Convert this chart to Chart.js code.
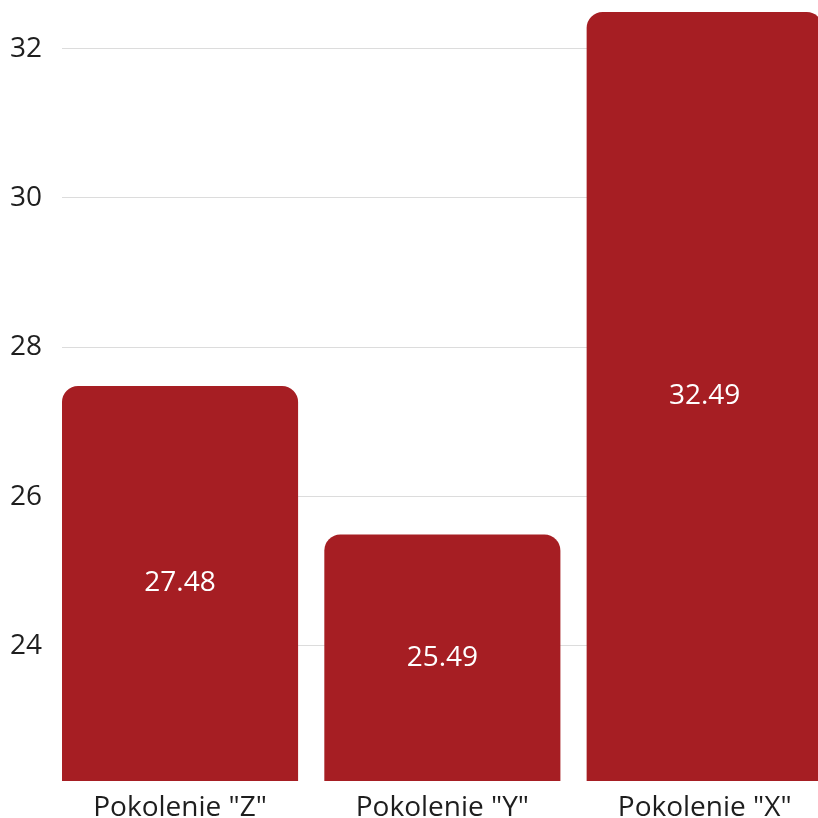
<!DOCTYPE html>
<html>
<head>
<meta charset="utf-8">
<script src="https://cdn.jsdelivr.net/npm/chart.js@4.4.1/dist/chart.umd.min.js"></script>
<style>
  html, body { margin: 0; padding: 0; background: #fff; overflow: hidden; }
  #wrap { width: 818px; height: 818px; }
</style>
</head>
<body>
<div id="wrap"><canvas id="myChart" width="818" height="818"></canvas></div>
<script>
const categories = ['Pokolenie "Z"', 'Pokolenie "Y"', 'Pokolenie "X"'];
const values = [27.48, 25.49, 32.49];
const yTicks = [24, 26, 28, 30, 32];

const barColor = "#a61e23";

// value labels in the middle of each bar
const barLabels = {
    id: "barLabels",
    afterDraw(chart) {
        const c = chart.ctx;
        const xs = chart.scales.x;
        const ys = chart.scales.y;
        c.save();
        c.fillStyle = "#ffffff";
        c.font = "28px 'Open Sans'";
        c.textAlign = "center";
        c.textBaseline = "middle";
        values.forEach((v, i) => {
            const top = ys.getPixelForValue(v);
            c.fillText(v.toFixed(2), xs.getPixelForValue(i), (top + ys.bottom) / 2);
        });
        c.restore();
    },
};

// drop the extra padding the axes ask for around their end labels
const noPad = (scale) => {
    scale.paddingTop = 0;
    scale.paddingBottom = 0;
    scale.paddingLeft = 0;
    scale.paddingRight = 0;
};

const chart = new Chart(document.getElementById("myChart"), {
    type: "bar",
    data: {
        datasets: [
            {
                data: values.map((v, i) => ({ x: i, y: v })),
                backgroundColor: barColor,
                borderWidth: 0,
                borderRadius: 16,
                barPercentage: 0.9,
                categoryPercentage: 1.0,
            },
        ],
    },
    options: {
        responsive: false,
        animation: false,
        layout: {
            padding: { top: 12, left: 10, right: 0, bottom: 0 },
        },
        plugins: {
            legend: { display: false },
            tooltip: { enabled: false },
        },
        scales: {
            x: {
                type: "linear",
                offset: false,
                min: -0.45,
                max: 2.432,
                grid: { display: false, drawTicks: false, offset: false },
                border: { display: false },
                afterBuildTicks: (scale) => {
                    scale.ticks = categories.map((c, i) => ({ value: i }));
                },
                afterFit: (scale) => {
                    noPad(scale);
                    scale.height = 37;
                },
                ticks: {
                    autoSkip: false,
                    maxRotation: 0,
                    padding: 10,
                    color: "#1e1e1e",
                    font: { family: "'Open Sans'", size: 28 },
                    callback: (v) => categories[v],
                },
            },
            y: {
                min: 22.19,
                max: 32.49,
                grid: { color: "#dcdcdc", lineWidth: 1, drawTicks: false },
                border: { display: false },
                afterBuildTicks: (scale) => {
                    scale.ticks = yTicks.map((v) => ({ value: v }));
                },
                afterFit: (scale) => {
                    noPad(scale);
                    scale.width = 52;
                },
                ticks: {
                    padding: 20,
                    color: "#1e1e1e",
                    font: { family: "'Open Sans'", size: 28 },
                },
            },
        },
    },
    plugins: [barLabels],
});
</script>
</body>
</html>
